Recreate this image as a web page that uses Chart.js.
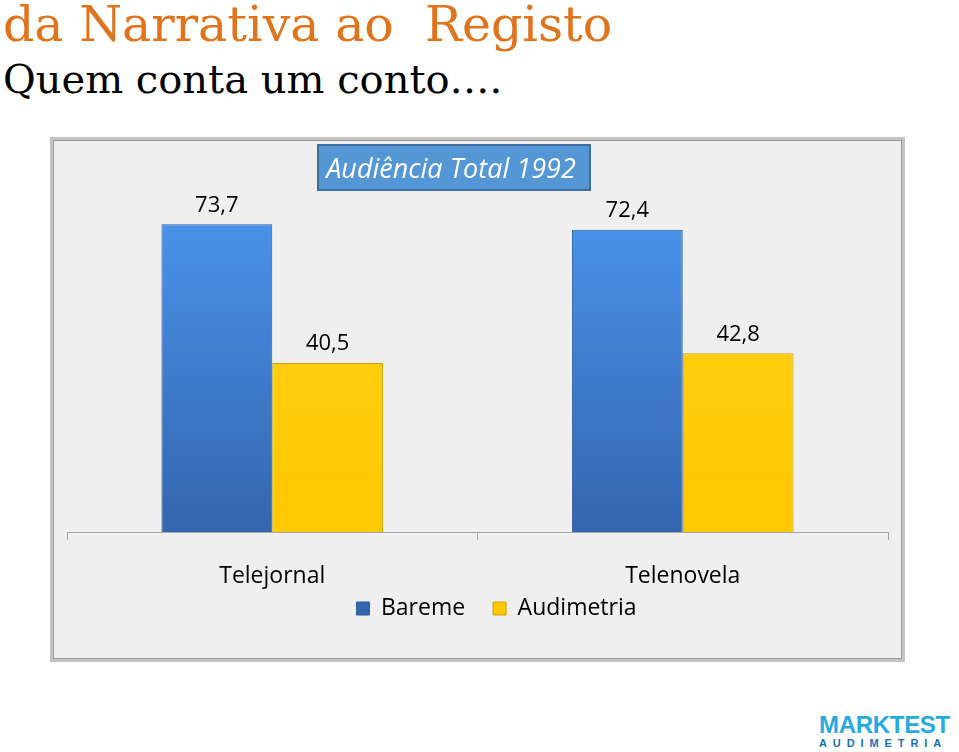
<!DOCTYPE html>
<html lang="pt">
<head>
<meta charset="UTF-8">
<title>da Narrativa ao Registo</title>
<script src="https://cdn.jsdelivr.net/npm/chart.js@4"></script>
<style>
  body { margin: 0; background: #fff; width: 959px; height: 752px; position: relative; overflow: hidden; }
  h1 { position: absolute; left: 3px; top: 0; margin: 0; font: normal 49px/49px "DejaVu Serif", serif; color: #e0741c; white-space: pre; }
  h2 { position: absolute; left: 3px; top: 59px; margin: 0; font: normal 40px/40px "DejaVu Serif", serif; color: #000; }
  #box { position: absolute; left: 50px; top: 137px; width: 849px; height: 519px; background: #efefef;
         border: 3px solid #c4c4c4; box-shadow: inset 0 0 0 1px #9a9a9a; }
  #logo { position: absolute; left: 819px; top: 713px; font-family: "Liberation Sans", Arial, sans-serif; font-weight: bold; }
  #logo .m { color: #27a9e1; font-size: 24px; line-height: 24px; letter-spacing: -0.3px; }
  #logo .a { color: #1b6fb5; font-size: 11px; line-height: 12px; letter-spacing: 5.9px; }
</style>
</head>
<body>
<h1>da Narrativa ao  Registo</h1>
<h2>Quem conta um conto….</h2>
<div id="box"><canvas id="chart" width="849" height="519"></canvas></div>
<div id="logo"><div class="m">MARKTEST</div><div class="a">AUDIMETRIA</div></div>
<script>
  const categories = ['Telejornal', 'Telenovela'];
  const bareme = [73.7, 72.4];
  const audimetria = [40.5, 42.8];
  const chartTitle = 'Audiência Total 1992';

  function grad(c, top, bottom) {
    const area = c.chart.chartArea;
    if (!area) return top;
    const g = c.chart.ctx.createLinearGradient(0, area.top, 0, area.bottom);
    g.addColorStop(0, top);
    g.addColorStop(1, bottom);
    return g;
  }

  // value labels above the bars (decimal comma) + category names under the x axis
  const textLabels = {
    id: 'textLabels',
    afterDatasetsDraw(chart) {
      const ctx = chart.ctx;
      const xs = chart.scales.x;
      ctx.save();
      ctx.fillStyle = '#000';
      ctx.textAlign = 'center';
      ctx.textBaseline = 'bottom';
      ctx.font = '22px "Open Sans", sans-serif';
      chart.data.datasets.forEach((ds, i) => {
        chart.getDatasetMeta(i).data.forEach((bar, j) => {
          ctx.fillText(ds.data[j].toFixed(1).replace('.', ','), bar.x, bar.y - 8);
        });
      });
      ctx.textBaseline = 'middle';
      ctx.font = '23px "Open Sans", sans-serif';
      chart.data.labels.forEach((lab, i) => {
        ctx.fillText(lab, xs.getPixelForValue(i), xs.top + 44);
      });
      ctx.restore();
    }
  };

  // title drawn in a blue box
  const titleBox = {
    id: 'titleBox',
    afterDraw(chart) {
      const ctx = chart.ctx;
      const x = 265, y = 5, w = 272, h = 45;
      ctx.save();
      ctx.fillStyle = '#5596d4';
      ctx.fillRect(x, y, w, h);
      ctx.lineWidth = 2;
      ctx.strokeStyle = '#3f6f9e';
      ctx.strokeRect(x, y, w, h);
      ctx.fillStyle = '#fff';
      ctx.font = 'italic 27px "Open Sans", sans-serif';
      ctx.textAlign = 'center';
      ctx.textBaseline = 'middle';
      ctx.fillText(chartTitle, x + w / 2 - 3, y + h / 2 + 3);
      ctx.restore();
    }
  };

  // the legend sits a little right of centre in the original
  const legendShift = {
    id: 'legendShift',
    afterLayout(chart) {
      chart.legend.left += 19;
      chart.legend.right += 19;
    }
  };

  new Chart(document.getElementById('chart'), {
    type: 'bar',
    data: {
      labels: categories,
      datasets: [{
        label: 'Bareme',
        data: bareme,
        backgroundColor: c => grad(c, '#4b95ee', '#3465ae'),
        borderColor: '#2d5d9c',
        borderWidth: 1
      }, {
        label: 'Audimetria',
        data: audimetria,
        backgroundColor: c => grad(c, '#ffd31c', '#ffc800'),
        borderColor: '#c9a200',
        borderWidth: 1
      }]
    },
    options: {
      responsive: false,
      animation: false,
      layout: { padding: { left: 14, right: 14, top: 58, bottom: 29 } },
      datasets: { bar: { barPercentage: 1, categoryPercentage: 0.54 } },
      scales: {
        x: {
          afterFit: s => { s.height = 37; },
          grid: { offset: true, drawOnChartArea: false, color: '#a6a6a6', tickLength: 8 },
          border: { color: '#a6a6a6' },
          ticks: { display: false }
        },
        y: { display: false, min: 0, max: 80 }
      },
      plugins: {
        legend: {
          position: 'bottom',
          labels: {
            color: '#000',
            boxWidth: 13,
            boxHeight: 13,
            padding: 28,
            font: { family: '"Open Sans", sans-serif', size: 23 }
          }
        },
        tooltip: { enabled: false }
      }
    },
    plugins: [textLabels, titleBox, legendShift]
  });
</script>
</body>
</html>
